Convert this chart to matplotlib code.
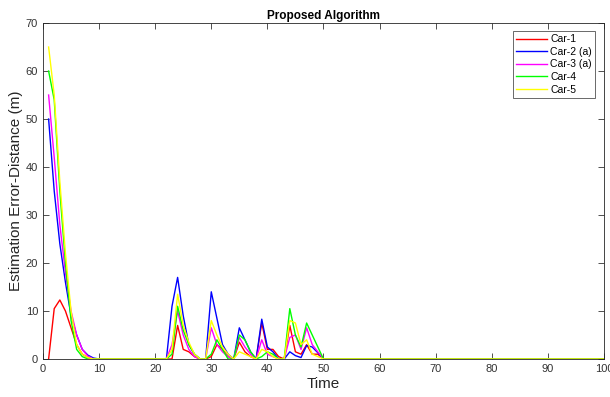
import numpy as np
import matplotlib.pyplot as plt

plt.rcParams['font.family'] = ['Liberation Sans', 'DejaVu Sans']

t = np.arange(1, 101)

# values read at t = 1..50; zero afterwards
car1_head = [0, 10.5, 12.3, 10, 6.5, 3, 1, 0.3, 0, 0,
             0, 0, 0, 0, 0, 0, 0, 0, 0, 0,
             0, 0, 0, 7, 2, 1.5, 0.5, 0, 0, 0.5,
             3, 2, 0.5, 0, 3.5, 1.5, 0.5, 0, 7.5, 2,
             2, 0.5, 0, 7, 1.5, 1, 3, 1, 1, 0]
car2_head = [50, 35, 24, 16, 9, 5, 2, 0.8, 0.2, 0,
             0, 0, 0, 0, 0, 0, 0, 0, 0, 0,
             0, 0, 11, 17, 9, 3, 1, 0, 0, 14,
             8.5, 3, 1, 0, 6.5, 4, 1.5, 0, 8.3, 2.5,
             1.5, 0, 0, 1.5, 0.7, 0.3, 2.8, 2.5, 1.3, 0]
car3_head = [55, 42, 28, 18, 10, 5, 2, 0.6, 0, 0,
             0, 0, 0, 0, 0, 0, 0, 0, 0, 0,
             0, 0, 3, 10, 5, 2, 0.5, 0, 0, 6.5,
             3, 1.5, 0.5, 0, 4.5, 2.5, 1, 0, 4, 1,
             0.5, 0, 0, 4.5, 5, 2, 6.5, 3, 1.5, 0]
car4_head = [60, 54, 35, 20, 8, 2, 0.5, 0, 0, 0,
             0, 0, 0, 0, 0, 0, 0, 0, 0, 0,
             0, 0, 1, 11, 6, 3, 1, 0, 0, 1,
             4, 2, 0, 0, 5, 4, 1.5, 0, 0.5, 1.5,
             1, 0, 0, 10.5, 5, 2.5, 7.5, 5, 2.5, 0]
car5_head = [65, 55, 37, 22, 10, 3, 1, 0.3, 0, 0,
             0, 0, 0, 0, 0, 0, 0, 0, 0, 0,
             0, 0, 2, 13.5, 7, 3.5, 1, 0, 0, 8,
             5, 2.5, 1, 0, 1.5, 1, 0.5, 0, 2, 1.5,
             0.5, 0, 0, 8, 7.5, 3, 4, 1, 0.5, 0]

labels = ['Car-1', 'Car-2 (a)', 'Car-3 (a)', 'Car-4', 'Car-5']
colors = ['#ff0000', '#0000ff', '#ff00ff', '#00ff00', '#ffff00']
series = [car1_head, car2_head, car3_head, car4_head, car5_head]

fig = plt.figure(figsize=(6.1, 3.97), dpi=100)
ax = fig.add_axes([0.0705, 0.0957, 0.9195, 0.8463])

for vals, lab, col in zip(series, labels, colors):
    y = np.zeros(len(t))
    y[:len(vals)] = vals
    ax.plot(t, y, color=col, lw=1.0, label=lab)

ax.set_xlim(0, 100)
ax.set_ylim(0, 70)
ax.set_xticks(range(0, 101, 10))
ax.set_yticks(range(0, 71, 10))
ax.tick_params(direction='in', top=True, right=True, labelsize=8,
               colors='#333333', length=4, width=0.6)
for s in ax.spines.values():
    s.set_color('#262626')
    s.set_linewidth(0.6)

ax.set_title('Proposed Algorithm', fontsize=8.5, fontweight='bold', pad=3)
ax.set_xlabel('Time', fontsize=11, labelpad=2, color='#262626')
ax.set_ylabel('Estimation Error-Distance (m)', fontsize=11, labelpad=2,
              color='#262626')

leg = ax.legend(loc='upper right', bbox_to_anchor=(0.984, 0.976), fontsize=7.5,
                frameon=True, fancybox=False, edgecolor='#262626',
                borderaxespad=0, handlelength=3.0, borderpad=0.3,
                labelspacing=0.25, handletextpad=0.3)
leg.get_frame().set_linewidth(0.6)

fig.savefig('out.png', dpi=100)
